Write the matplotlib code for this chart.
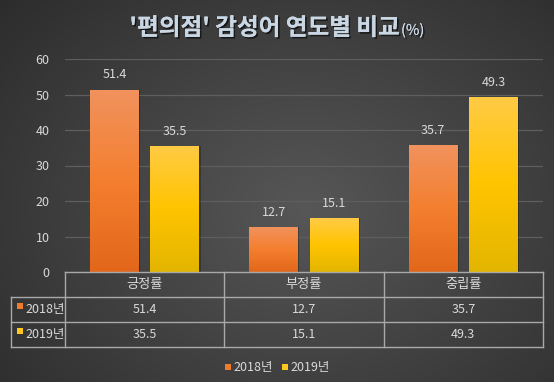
import numpy as np
import matplotlib
matplotlib.use("Agg")
import matplotlib.pyplot as plt
from matplotlib.colors import LinearSegmentedColormap
from matplotlib.lines import Line2D
from matplotlib.patches import Rectangle
import matplotlib.patheffects as pe

plt.rcParams['font.family'] = ['Noto Sans CJK KR', 'DejaVu Sans']

# ---- data ----
categories = ['긍정률', '부정률', '중립률']
series_names = ['2018년', '2019년']
values_2018 = [51.4, 12.7, 35.7]
values_2019 = [35.5, 15.1, 49.3]
y_ticks = [0, 10, 20, 30, 40, 50, 60]
title_main = "'편의점' 감성어 연도별 비교"
title_unit = "(%)"

W, H = 554, 382
fig = plt.figure(figsize=(W / 100, H / 100), dpi=100)

# ---- background radial gradient ----
bg = fig.add_axes([0, 0, 1, 1], zorder=-10)
yy, xx = np.mgrid[0:H, 0:W]
r = np.sqrt(((xx - W * 0.55) / (W * 0.75)) ** 2 + ((yy - H * 0.55) / (H * 0.85)) ** 2)
r = np.clip(r, 0, 1)
c_center = np.array([0.34, 0.34, 0.34])
c_edge = np.array([0.17, 0.17, 0.17])
img = c_center[None, None, :] * (1 - r[..., None]) + c_edge[None, None, :] * r[..., None]
bg.imshow(img, aspect='auto', extent=[0, 1, 0, 1])
bg.axis('off')

# ---- main axes ----
left, right = 65 / W, 543 / W
bottom, top = 1 - 272 / H, 1 - 59 / H
ax = fig.add_axes([left, bottom, right - left, top - bottom])
ax.set_facecolor('none')
ax.set_xlim(-0.5, len(categories) - 0.5)
ax.set_ylim(0, 60)
ax.set_yticks(y_ticks)
ax.yaxis.grid(True, color='#5E5E5E', linewidth=0.9)
ax.set_axisbelow(True)
for s in ax.spines.values():
    s.set_visible(False)
ax.tick_params(axis='y', length=0, pad=11, labelcolor='#D9D9D9', labelsize=9)
ax.tick_params(axis='x', length=0, labelbottom=False)

orange_cmap = LinearSegmentedColormap.from_list('o', ['#E2671A', '#F47F2F', '#F1925E'])
yellow_cmap = LinearSegmentedColormap.from_list('y', ['#E3B500', '#FFC400', '#FFCB45'])

x = np.arange(len(categories))
width = 0.307
offset = 0.19
grad = np.linspace(0, 1, 256).reshape(-1, 1)
for vals, dx, cmap in [(values_2018, -offset, orange_cmap), (values_2019, offset, yellow_cmap)]:
    bars = ax.bar(x + dx, vals, width, color='none', edgecolor='none', zorder=3)
    for b, v in zip(bars, vals):
        x0 = b.get_x()
        # subtle shadow on the right
        sh = Rectangle((x0 + 0.008, 0), b.get_width(), v, facecolor='#000000', alpha=0.25,
                       edgecolor='none', zorder=2)
        ax.add_patch(sh)
        im = ax.imshow(grad, cmap=cmap, origin='lower', aspect='auto',
                       extent=[x0, x0 + b.get_width(), 0, v], zorder=3)
        im.set_clip_path(b)
        ax.text(b.get_x() + b.get_width() / 2, v + 2.3, f'{v}', ha='center', va='bottom',
                color='#D9D9D9', fontsize=9)
ax.set_xlim(-0.5, len(categories) - 0.5)
ax.set_ylim(0, 60)

# ---- data table ----
def fx(px):
    return px / W

def fy(py):
    return 1 - py / H

line_c = '#A9A9A9'
col_edges = [65, 224.3, 383.7, 543]
tab_left = 11
row_edges = [272.3, 297.3, 322.3, 347]
lw = 1.0
# horizontal lines
fig.add_artist(Line2D([fx(65), fx(543)], [fy(row_edges[0])] * 2, color=line_c, lw=lw))
for ry in row_edges[1:]:
    fig.add_artist(Line2D([fx(tab_left), fx(543)], [fy(ry)] * 2, color=line_c, lw=lw))
# vertical lines
fig.add_artist(Line2D([fx(tab_left)] * 2, [fy(row_edges[1]), fy(row_edges[3])], color=line_c, lw=lw))
for cx in col_edges:
    fig.add_artist(Line2D([fx(cx)] * 2, [fy(row_edges[0]), fy(row_edges[3])], color=line_c, lw=lw))

txt_c = '#D9D9D9'
for i, cat in enumerate(categories):
    cxm = (col_edges[i] + col_edges[i + 1]) / 2
    fig.text(fx(cxm), fy((row_edges[0] + row_edges[1]) / 2), cat, ha='center', va='center',
             color=txt_c, fontsize=9.5)

series_vals = [values_2018, values_2019]
series_cols = ['#F07B2A', '#FFC820']
for r_i, (name, vals, col) in enumerate(zip(series_names, series_vals, series_cols)):
    ymid = (row_edges[r_i + 1] + row_edges[r_i + 2]) / 2
    fig.add_artist(Rectangle((fx(16.5), fy(ymid - 1)), 6 / W, 6 / H, facecolor=col,
                             edgecolor='none', transform=fig.transFigure))
    fig.text(fx(25), fy(ymid), name, ha='left', va='center', color=txt_c, fontsize=9)
    for i, v in enumerate(vals):
        cxm = (col_edges[i] + col_edges[i + 1]) / 2
        fig.text(fx(cxm), fy(ymid), f'{v}', ha='center', va='center', color=txt_c, fontsize=9)

# ---- legend ----
leg_y = 367
leg_items = [(225, series_names[0], series_cols[0]), (282, series_names[1], series_cols[1])]
for lx, name, col in leg_items:
    fig.add_artist(Rectangle((fx(lx), fy(leg_y + 3)), 6 / W, 6 / H, facecolor=col,
                             edgecolor='none', transform=fig.transFigure))
    fig.text(fx(lx + 8), fy(leg_y), name, ha='left', va='center', color=txt_c, fontsize=9)

# ---- title ----
shadow = [pe.withSimplePatchShadow(offset=(1.2, -1.2), shadow_rgbFace='black', alpha=0.6), pe.Normal()]
t1 = fig.text(fx(400), fy(28), title_main, ha='right', va='center', color='#C9D6E3',
              fontsize=17, fontweight='bold', path_effects=shadow)
t2 = fig.text(fx(401), fy(30.5), title_unit, ha='left', va='center', color='#C9D6E3',
              fontsize=10.5, path_effects=shadow)

fig.savefig('out.png', dpi=100)
